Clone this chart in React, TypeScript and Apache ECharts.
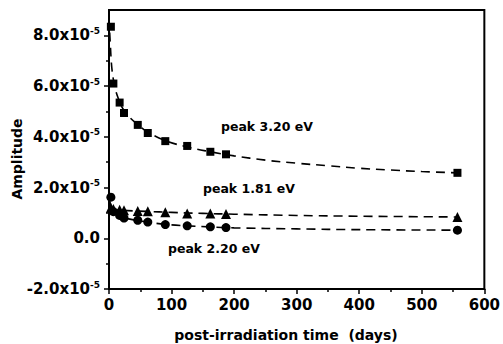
import React, { useEffect, useRef } from "react";
import * as echarts from "echarts";

// Measurement days (post-irradiation time)
const days = [3, 7, 17, 24, 46, 62, 90, 125, 162, 187, 557];
// Amplitudes in units of 1e-5
const peak320 = [8.34, 6.1, 5.35, 4.94, 4.47, 4.15, 3.83, 3.64, 3.41, 3.31, 2.58];
const peak181 = [1.2, 1.15, 1.12, 1.1, 1.08, 1.07, 1.03, 0.98, 0.98, 0.96, 0.84];
const peak220 = [1.62, 1.05, 0.9, 0.8, 0.71, 0.64, 0.54, 0.49, 0.45, 0.42, 0.32];

// Fitted decay curves (day, amplitude 1e-5)
const fit320X = [0, 2, 5, 10, 15, 20, 30, 45, 60, 90, 125, 160, 200, 250, 300, 350, 400, 450, 500, 557];
const fit320Y = [8.7, 7.7, 6.6, 5.9, 5.5, 5.2, 4.85, 4.5, 4.22, 3.85, 3.6, 3.42, 3.25, 3.08, 2.96, 2.86, 2.76, 2.69, 2.63, 2.58];
const fit181X = [0, 10, 30, 60, 100, 150, 200, 300, 400, 557];
const fit181Y = [1.2, 1.13, 1.09, 1.06, 1.02, 0.98, 0.95, 0.9, 0.87, 0.84];
const fit220X = [0, 3, 7, 15, 25, 45, 60, 90, 125, 160, 200, 300, 400, 557];
const fit220Y = [1.6, 1.3, 1.07, 0.9, 0.8, 0.7, 0.64, 0.55, 0.49, 0.45, 0.41, 0.37, 0.34, 0.32];

const yMajor = [-2, 0, 2, 4, 6, 8];
const yMinor = [-1, 1, 3, 5, 7];
const xTitle = "post-irradiation time  (days)";
const yTitle = "Amplitude";
const labels = ["peak 3.20 eV", "peak 1.81 eV", "peak 2.20 eV"];

const FONT = "DejaVu Sans";

export default function App() {
  const ref = useRef<HTMLDivElement>(null);
  useEffect(() => {
    if (!ref.current) return;
    const chart = echarts.init(ref.current, null, { renderer: "svg" });
    const zip = (xs: number[], ys: number[]) => xs.map((x, i) => [x, ys[i]]);
    const fitStyle = { color: "#000", width: 1.6, type: [9, 6] as any };
    const fitSeries = (xs: number[], ys: number[]) => ({
      type: "line",
      data: zip(xs, ys),
      smooth: 0.4,
      showSymbol: false,
      symbol: "none",
      lineStyle: fitStyle,
      silent: true,
      z: 2,
    });
    const markSeries = (ys: number[], symbol: string, size: number) => ({
      type: "scatter",
      data: zip(days, ys),
      symbol,
      symbolSize: size,
      itemStyle: { color: "#000", opacity: 1 },
      z: 3,
    });
    chart.setOption({
      animation: false,
      grid: {
        left: 109,
        right: 16,
        top: 10,
        bottom: 55,
        show: true,
        borderColor: "#000",
        borderWidth: 2,
        backgroundColor: "#fff",
      },
      xAxis: {
        type: "value",
        min: 0,
        max: 600,
        interval: 100,
        axisLine: { onZero: false, lineStyle: { color: "#000", width: 2 } },
        axisTick: { length: 5, lineStyle: { color: "#000", width: 1.5 } },
        minorTick: { show: true, splitNumber: 2, length: 3, lineStyle: { color: "#000", width: 1.5 } },
        splitLine: { show: false },
        axisLabel: {
          margin: 8,
          color: "#000",
          fontFamily: FONT,
          fontWeight: "bold",
          fontSize: 15,
        },
      },
      yAxis: [
        {
          type: "value",
          min: -2,
          max: 9,
          interval: 2,
          axisLine: { onZero: false, lineStyle: { color: "#000", width: 2 } },
          axisTick: { length: 5, customValues: yMajor, lineStyle: { color: "#000", width: 1.5 } },
          splitLine: { show: false },
          axisLabel: {
            margin: 9,
            customValues: yMajor,
            formatter: (v: number) => (v === 0 ? "{m|0.0}" : `{m|${v.toFixed(1)}x10}{s|-5}`),
            rich: {
              m: { fontFamily: FONT, fontWeight: "bold", fontSize: 15, color: "#000", lineHeight: 18 },
              s: { fontFamily: FONT, fontWeight: "bold", fontSize: 9, color: "#000", verticalAlign: "top", lineHeight: 10 },
            },
          },
        },
        {
          type: "value",
          min: -2,
          max: 9,
          position: "left",
          axisLine: { show: false, onZero: false },
          axisTick: { show: true, length: 3, customValues: yMinor, lineStyle: { color: "#000", width: 1.5 } },
          axisLabel: { show: false },
          splitLine: { show: false },
        },
      ],
      graphic: [
        {
          type: "text",
          x: 17,
          y: 159,
          rotation: Math.PI / 2,
          style: {
            text: yTitle,
            fontFamily: FONT,
            fontWeight: "bold",
            fontSize: 14,
            fill: "#000",
            align: "center",
            verticalAlign: "middle",
          },
        },
        {
          type: "text",
          x: 286,
          y: 335,
          style: {
            text: xTitle,
            fontFamily: FONT,
            fontWeight: "bold",
            fontSize: 14,
            fill: "#000",
            align: "center",
            verticalAlign: "middle",
          },
        },
        ...[
          [221, 126],
          [203, 188],
          [168, 248],
        ].map(([x, y], i) => ({
          type: "text",
          x,
          y,
          style: {
            text: labels[i],
            fontFamily: FONT,
            fontWeight: "bold",
            fontSize: 12.5,
            fill: "#000",
            align: "left",
            verticalAlign: "middle",
          },
        })),
      ],
      series: [
        fitSeries(fit320X, fit320Y),
        fitSeries(fit181X, fit181Y),
        fitSeries(fit220X, fit220Y),
        markSeries(peak320, "rect", 8),
        markSeries(peak181, "triangle", 10),
        markSeries(peak220, "circle", 9),
      ],
    });
    return () => chart.dispose();
  }, []);
  return <div ref={ref} style={{ width: 503, height: 344, position: "absolute", left: 0, top: 0 }} />;
}
